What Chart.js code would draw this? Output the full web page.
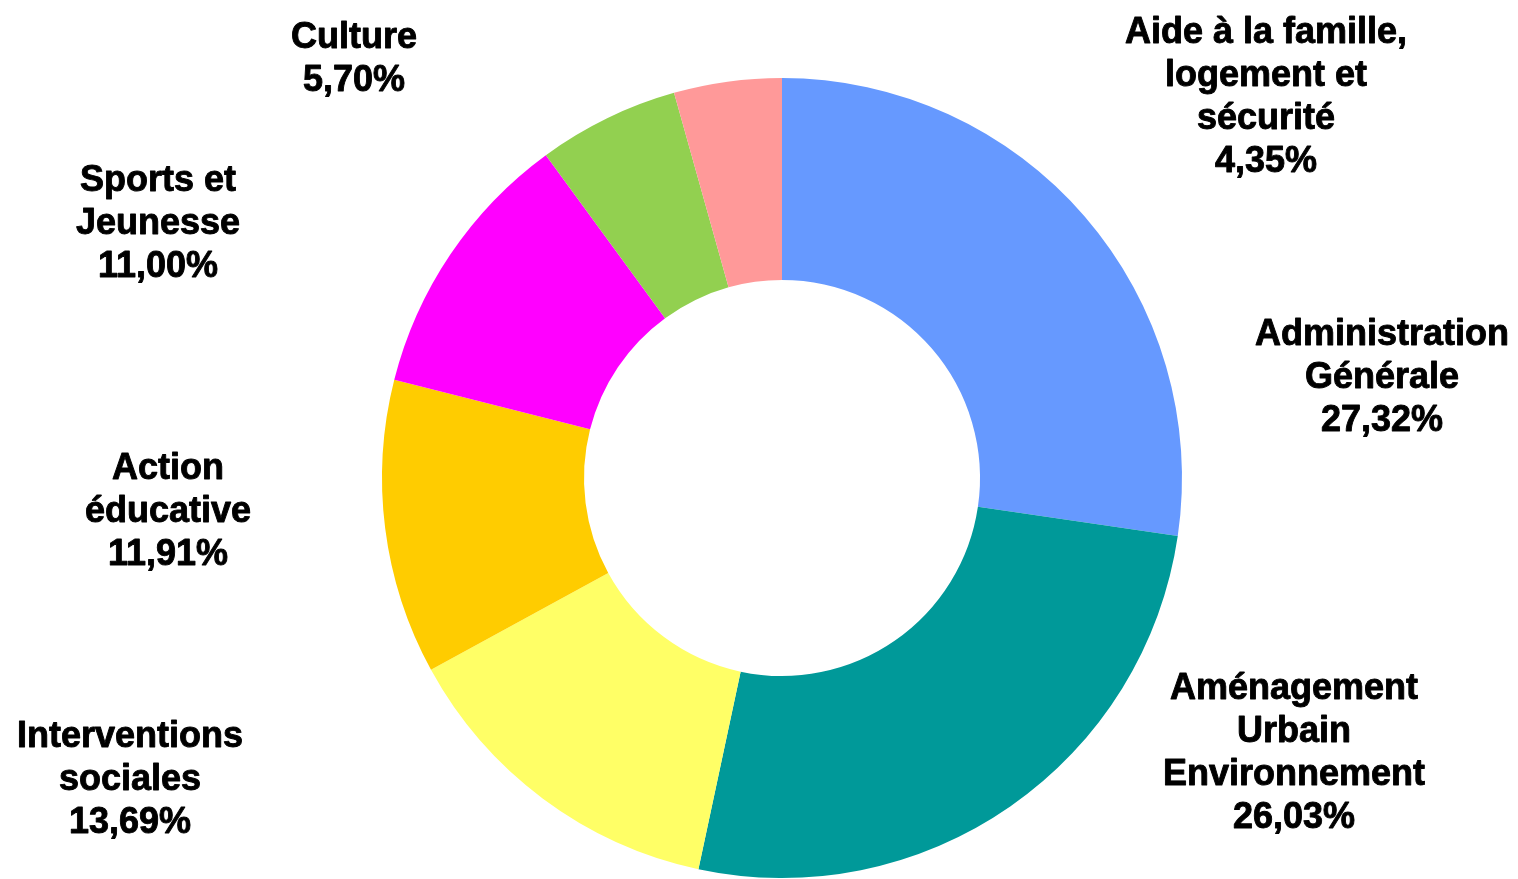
<!DOCTYPE html>
<html>
<head>
<meta charset="utf-8">
<script src="https://cdn.jsdelivr.net/npm/chart.js@4/dist/chart.umd.min.js"></script>
<style>
  html, body { margin: 0; padding: 0; background: #ffffff; }
  #wrap { width: 1518px; height: 879px; position: relative; }
</style>
</head>
<body>
<div id="wrap"><canvas id="budgetChart"></canvas></div>
<script>
// Slices, clockwise from 12 o'clock
const categories = [
  ['Administration', 'Générale'],
  ['Aménagement', 'Urbain', 'Environnement'],
  ['Interventions', 'sociales'],
  ['Action', 'éducative'],
  ['Sports et', 'Jeunesse'],
  ['Culture'],
  ['Aide à la famille,', 'logement et', 'sécurité']
];
const shares = [27.32, 26.03, 13.69, 11.91, 11.00, 5.70, 4.35];
const sliceColors = ['#6699FF', '#009999', '#FFFF66', '#FFCC00', '#FF00FF', '#92D050', '#FF9999'];

// Label anchors, relative to chart centre, in units of outer radius
const labelAnchors = [
  [1.50, -0.25],
  [1.28, 0.69],
  [-1.63, 0.755],
  [-1.535, 0.085],
  [-1.56, -0.635],
  [-1.07, -1.045],
  [1.21, -0.95]
];

function formatPct(v) {
  return v.toFixed(2).replace('.', ',') + '%';
}

// Draw the outside labels from the arc geometry
const outsideLabels = {
  id: 'outsideLabels',
  afterDatasetsDraw(chart) {
    const ctx = chart.ctx;
    const meta = chart.getDatasetMeta(0);
    ctx.save();
    ctx.fillStyle = '#000000';
    ctx.strokeStyle = '#000000';
    ctx.lineWidth = 0.9;
    ctx.lineJoin = 'round';
    ctx.font = 'bold 36px "Liberation Sans", Arial, sans-serif';
    ctx.textAlign = 'center';
    ctx.textBaseline = 'middle';
    meta.data.forEach(function(arc, i) {
      const r = arc.outerRadius;
      const cx = arc.x + labelAnchors[i][0] * r;
      const cy = arc.y + labelAnchors[i][1] * r;
      const lines = categories[i].concat([formatPct(shares[i])]);
      const lh = 43;
      const top = cy - (lines.length - 1) * lh / 2;
      lines.forEach(function(line, j) {
        ctx.fillText(line, cx, top + j * lh);
        ctx.strokeText(line, cx, top + j * lh);
      });
    });
    ctx.restore();
  }
};

new Chart(document.getElementById('budgetChart'), {
  type: 'doughnut',
  data: {
    labels: categories.map(c => c.join(' ')),
    datasets: [{
      data: shares,
      backgroundColor: sliceColors,
      borderWidth: 0,
      hoverOffset: 0
    }]
  },
  options: {
    responsive: true,
    maintainAspectRatio: false,
    animation: false,
    cutout: '49.5%',
    layout: {
      padding: { top: 78, bottom: 1, left: 346, right: 300 }
    },
    plugins: {
      legend: { display: false },
      tooltip: { enabled: false }
    }
  },
  plugins: [outsideLabels]
});
</script>
</body>
</html>
